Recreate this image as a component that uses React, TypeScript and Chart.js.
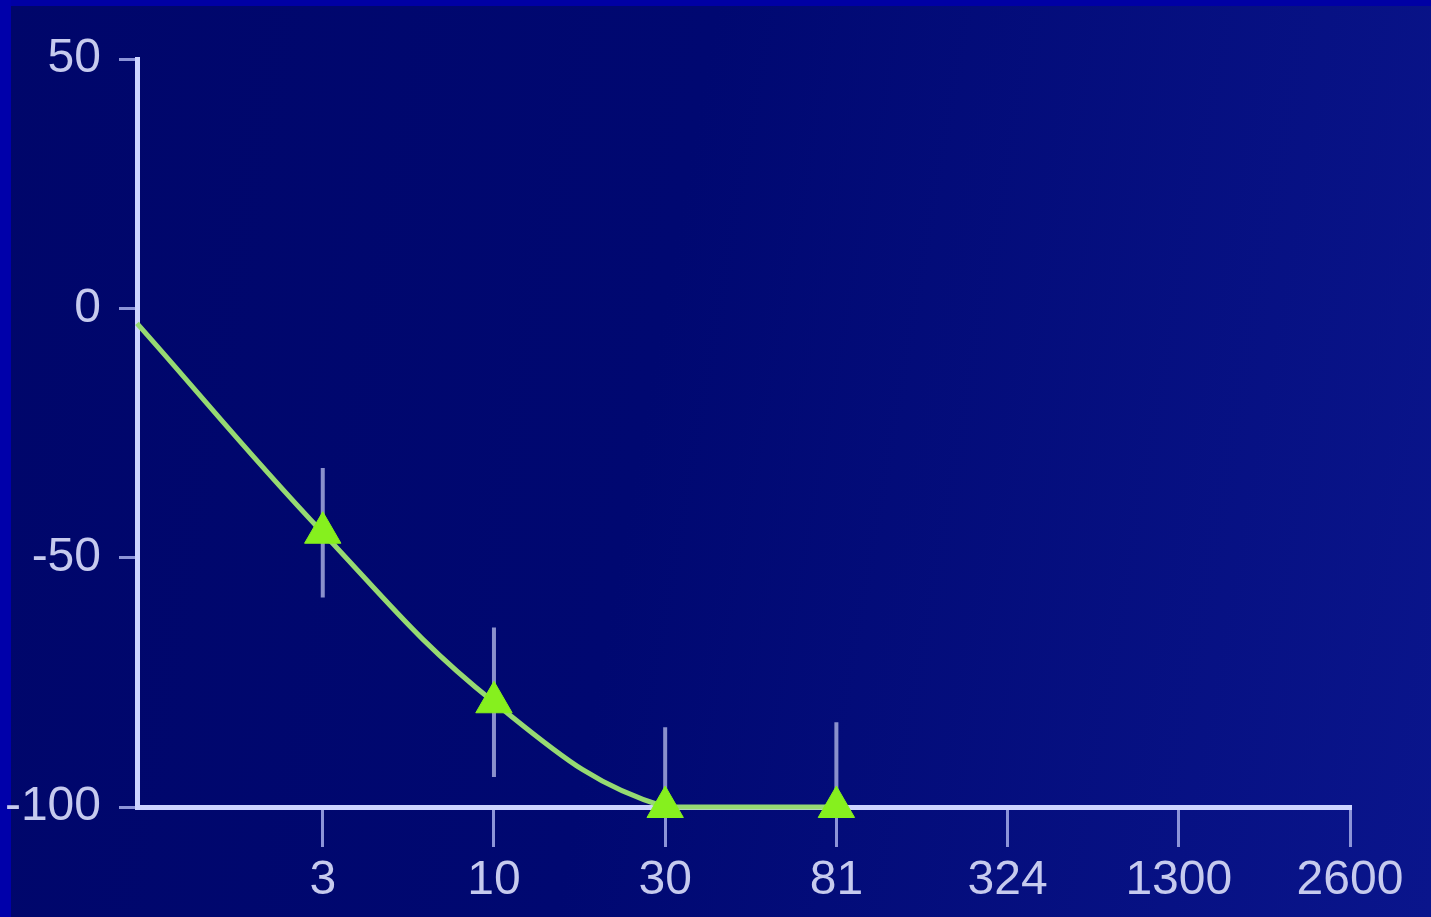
import React, { useEffect, useRef } from "react";
import { Chart, registerables } from "chart.js";

Chart.register(...registerables);

// Dose categories along the x axis (index 0 is the origin, no label)
const doseLabels = ["", "3", "10", "30", "81", "324", "1300", "2600"];
// Left end of the x axis, a little before the first category slot
const xAxisMin = -0.085;
// Category positions of the measured series (the curve starts on the y axis)
const doseIndex = [xAxisMin, 1, 2, 3, 4];
// Mean change (%) at each dose
const meanChange = [-3, -45, -79, -100, -100];
// Half-length of the error bar at each dose
const errorHalf = [0, 13, 15, 16, 17];
// Y axis tick values
const yTicks = [50, 0, -50, -100];

const LABEL_COLOR = "#c6caee";
const AXIS_COLOR = "#cdd4ff";
const TICK_COLOR = "#8c94d8";
const FONT_FAMILY = "'Liberation Sans', Arial, sans-serif";

// Vertical error bars drawn beneath the curve and markers
const errorBarPlugin = {
  id: "errorBars",
  beforeDatasetsDraw(chart: any) {
    const { ctx, chartArea, scales } = chart;
    const xs = scales.x;
    const ys = scales.y;
    ctx.save();
    ctx.beginPath();
    ctx.rect(chartArea.left, chartArea.top, chartArea.right - chartArea.left, chartArea.bottom - chartArea.top);
    ctx.clip();
    ctx.strokeStyle = "#8a90cc";
    ctx.lineWidth = 4;
    doseIndex.forEach((xi, i) => {
      const e = errorHalf[i];
      if (!e) return;
      const px = xs.getPixelForValue(xi);
      const top = ys.getPixelForValue(meanChange[i] + e);
      const bottom = ys.getPixelForValue(meanChange[i] - e);
      ctx.beginPath();
      ctx.moveTo(px, top);
      ctx.lineTo(px, bottom);
      ctx.stroke();
    });
    ctx.restore();
  },
};

export default function App() {
  const canvasRef = useRef<HTMLCanvasElement | null>(null);

  useEffect(() => {
    document.body.style.margin = "0";
    const canvas = canvasRef.current;
    if (!canvas) return;
    const chart = new Chart(canvas, {
      type: "line",
      data: {
        datasets: [
          {
            data: doseIndex.map((x, i) => ({ x, y: meanChange[i] })),
            borderColor: "#96da72",
            borderWidth: 5,
            tension: 0.4,
            pointStyle: "triangle",
            pointRadius: (c: any) => (c.dataIndex === 0 ? 0 : 21),
            pointBackgroundColor: "#86f01e",
            pointBorderColor: "#86f01e",
            pointBorderWidth: 1,
            clip: false as any,
          },
        ],
      },
      options: {
        responsive: false,
        animation: false,
        layout: { padding: { top: 59, right: 81, left: 0, bottom: 0 } },
        plugins: {
          legend: { display: false },
          tooltip: { enabled: false },
        },
        scales: {
          x: {
            type: "linear",
            min: xAxisMin,
            max: doseLabels.length - 1,
            afterFit(scale: any) {
              scale.height = 110;
            },
            afterBuildTicks(scale: any) {
              scale.ticks = doseLabels.map((_, i) => ({ value: i })).slice(1);
            },
            ticks: {
              callback: (v: any) => doseLabels[v as number],
              color: LABEL_COLOR,
              font: { family: FONT_FAMILY, size: 48 },
              padding: 5,
              maxRotation: 0,
              autoSkip: false,
            },
            grid: {
              drawOnChartArea: false,
              drawTicks: true,
              tickLength: 40,
              color: TICK_COLOR,
              lineWidth: 3,
            },
            border: { display: true, color: AXIS_COLOR, width: 5 },
          },
          y: {
            min: -100,
            max: 50,
            afterFit(scale: any) {
              scale.width = 137;
            },
            afterBuildTicks(scale: any) {
              scale.ticks = yTicks.map((v) => ({ value: v }));
            },
            ticks: {
              color: LABEL_COLOR,
              font: { family: FONT_FAMILY, size: 48 },
              padding: 18,
            },
            grid: {
              drawOnChartArea: false,
              drawTicks: true,
              tickLength: 18,
              color: TICK_COLOR,
              lineWidth: 3,
            },
            border: { display: true, color: AXIS_COLOR, width: 5 },
          },
        },
      },
      plugins: [errorBarPlugin],
    });
    return () => chart.destroy();
  }, []);

  return (
    <div
      style={{
        position: "fixed",
        left: 0,
        top: 0,
        width: 1431,
        height: 917,
        overflow: "hidden",
        background: "linear-gradient(100deg, #00066a 0%, #000871 45%, #0a158c 100%)",
      }}
    >
      <div style={{ position: "absolute", left: 0, top: 0, width: 1431, height: 6, background: "#0000a4" }} />
      <div style={{ position: "absolute", left: 0, top: 0, width: 11, height: 917, background: "#0000aa" }} />
      <canvas
        ref={canvasRef}
        width={1431}
        height={917}
        style={{ position: "absolute", left: 0, top: 0, display: "block" }}
      />
    </div>
  );
}
